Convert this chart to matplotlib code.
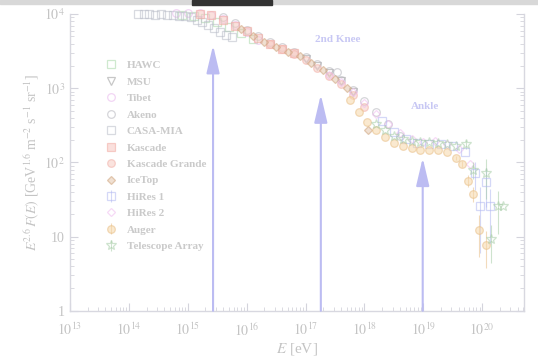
import numpy as np
import matplotlib
matplotlib.use('Agg')
import matplotlib.pyplot as plt
from matplotlib.patches import Rectangle

plt.rcParams['font.family'] = 'Liberation Serif'
plt.rcParams['mathtext.fontset'] = 'stix'

# log10(E/eV) and E^2.6 F(E)
hawc_le = [14.9, 15.1, 15.3, 15.5, 15.7, 15.9, 16.1]
hawc_f = [9800, 9500, 8800, 7800, 6600, 5500, 4600]

msu_le = [17.0, 17.2, 17.4, 17.6, 17.8]
msu_f = [2500, 2000, 1600, 1250, 900]

tibet_le = [14.8, 15.0, 15.2, 15.4, 15.6, 15.8, 16.0, 16.2]
tibet_f = [10200, 10400, 10300, 9800, 8600, 7200, 5800, 4500]

akeno_le = [15.6, 15.8, 16.0, 16.2, 16.4, 16.6, 16.8, 17.0, 17.2, 17.4, 17.53, 17.6, 17.8, 18.0, 18.2, 18.4, 18.6]
akeno_f = [9000, 7600, 6100, 5000, 4200, 3600, 3100, 2600, 2100, 1700, 1650, 1300, 950, 680, 480, 330, 230]

casa_le = [14.15, 14.25, 14.35, 14.45, 14.55, 14.65, 14.75, 14.85, 14.95, 15.05, 15.15, 15.25, 15.35, 15.45, 15.55, 15.65, 15.75]
casa_f = [9900, 10000, 9900, 9800, 9900, 9700, 9600, 9500, 9400, 9200, 8300, 7800, 7100, 6500, 5700, 5200, 4900]

kascade_le = [15.2, 15.4, 15.6, 15.8, 16.0, 16.2, 16.4, 16.6, 16.8]
kascade_f = [10100, 9600, 8400, 7000, 5900, 4800, 4000, 3400, 3000]

kg_le = [16.4, 16.6, 16.8, 17.0, 17.2, 17.4, 17.6, 17.8, 18.0]
kg_f = [3900, 3400, 2900, 2400, 1900, 1450, 1150, 800, 560]

icetop_le = [15.9, 16.1, 16.3, 16.5, 16.7, 16.9, 17.1, 17.3, 17.5, 17.7, 18.06]
icetop_f = [6200, 5000, 4200, 3600, 3100, 2700, 2200, 1750, 1350, 1000, 275]

hires1_le = [18.3, 18.5, 18.7, 18.9, 19.1, 19.3, 19.5, 19.7, 19.87, 19.96, 20.06, 20.14]
hires1_f = [360, 260, 210, 185, 175, 175, 165, 140, 72, 26, 55, 26]
hires1_err = [0, 0, 0, 0, 0, 0, 0, 0, 30, 20, 30, 18]

hires2_le = [17.4, 17.6, 17.8, 18.0, 18.2, 18.4, 18.6, 18.8, 19.0, 19.2, 19.4, 19.6, 19.8]
hires2_f = [1500, 1200, 900, 640, 450, 330, 250, 205, 190, 195, 180, 150, 95]

auger_le = [17.75, 17.9, 18.05, 18.2, 18.35, 18.5, 18.65, 18.8, 18.95, 19.1, 19.25, 19.4, 19.55, 19.65, 19.76, 19.85, 19.95, 20.06]
auger_f = [690, 480, 355, 275, 220, 183, 166, 158, 148, 148, 148, 138, 115, 96, 57, 38, 12.3, 7.8]
auger_err = [0, 0, 0, 0, 0, 0, 0, 0, 0, 0, 0, 0, 8, 10, 10, 9, 7, 4]

ta_le = [18.2, 18.35, 18.5, 18.65, 18.8, 18.95, 19.1, 19.25, 19.4, 19.55, 19.73, 19.85, 20.07, 20.15, 20.26, 20.36]
ta_f = [330, 270, 230, 205, 195, 190, 190, 185, 180, 165, 175, 80, 72, 9.4, 26, 26]
ta_err = [0, 0, 0, 0, 0, 0, 0, 0, 0, 0, 25, 20, 40, 5, 15, 0]

arrow_le = [15.43, 17.26, 18.99]
arrow_tip = [3800, 820, 115]

series = [
    ('HAWC', hawc_le, hawc_f, None, 's', '#a8d8a8', 'none'),
    ('MSU', msu_le, msu_f, None, 'v', '#9a9a9a', 'none'),
    ('Tibet', tibet_le, tibet_f, None, 'o', '#e8b4ec', 'none'),
    ('Akeno', akeno_le, akeno_f, None, 'o', '#b4b4bc', 'none'),
    ('CASA-MIA', casa_le, casa_f, None, 's', '#b8bcc8', 'none'),
    ('Kascade', kascade_le, kascade_f, None, 's', '#f2aaa2', '#f6c8c2'),
    ('Kascade Grande', kg_le, kg_f, None, 'o', '#f2b0a8', '#f6ccc4'),
    ('IceTop', icetop_le, icetop_f, None, 'D', '#cfa47e', '#e4c8ae'),
    ('HiRes 1', hires1_le, hires1_f, hires1_err, 's', '#b2b8f2', 'none'),
    ('HiRes 2', hires2_le, hires2_f, None, 'D', '#f0bcf0', 'none'),
    ('Auger', auger_le, auger_f, auger_err, 'o', '#e8bf86', '#f6d8aa'),
    ('Telescope Array', ta_le, ta_f, ta_err, '*', '#a6cca6', 'none'),
]

fig = plt.figure(figsize=(5.38, 3.61), dpi=100)
ax = fig.add_axes([0.130, 0.139, 0.844, 0.822])

grey = '#c4c4c4'
handles = []
for name, le, f, err, mk, col, fc in series:
    e = 10 ** np.array(le)
    ms = 7 if mk == '*' else 5.5
    if mk == 'D':
        ms = 4
    if err is not None:
        h = ax.errorbar(e, f, yerr=err, fmt=mk, color=col, mfc=fc, mec=col, ms=ms, mew=0.9,
                        elinewidth=0.8, capsize=0, clip_on=False, alpha=0.55, label=name)
    else:
        h, = ax.plot(e, f, mk, color=col, mfc=fc, mec=col, ms=ms, mew=0.9,
                     clip_on=False, alpha=0.55, label=name)
    handles.append(h)

for le, tip in zip(arrow_le, arrow_tip):
    ax.annotate('', xy=(10 ** le, tip), xytext=(10 ** le, 1.0),
                arrowprops=dict(arrowstyle='-|>,head_length=0.85,head_width=0.2',
                                color='#bcbcf2', lw=1.5, mutation_scale=20, shrinkA=0, shrinkB=0))

ax.text(10 ** 17.55, 4500, '2nd Knee', color='#c8c8f4', fontsize=8, fontweight='bold', ha='center', va='center')
ax.text(10 ** 19.03, 560, 'Ankle', color='#c8c8f4', fontsize=8, fontweight='bold', ha='center', va='center')

ax.set_xscale('log')
ax.set_yscale('log')
ax.set_xlim(1e13, 10 ** 20.71)
ax.set_ylim(1, 1e4)
ax.set_xticks([10.0 ** k for k in range(13, 21)])
ax.set_xticklabels(['$10^{%d}$' % k for k in range(13, 21)])
ax.set_yticks([1, 10, 100, 1000, 10000])
ax.set_yticklabels(['1', '10', '$10^{2}$', '$10^{3}$', '$10^{4}$'])

ax.spines['top'].set_visible(False)
for s in ['left', 'right', 'bottom']:
    ax.spines[s].set_color('#d8d8e0')
    ax.spines[s].set_linewidth(1.0)
ax.tick_params(which='both', direction='in', colors='#d4d4dc', labelcolor=grey,
               right=True, top=False, labelsize=10)
ax.tick_params(which='major', length=6)
ax.tick_params(which='minor', length=3)
ax.tick_params(axis='x', pad=8)

ax.set_xlabel('$E$ [eV]', color=grey, fontsize=11, labelpad=2)
ax.set_ylabel('$E^{2.6}\\,F(E)$ [GeV$^{1.6}$ m$^{-2}$ s$^{-1}$ sr$^{-1}$]', color=grey,
              fontsize=10, labelpad=2)

leg = ax.legend(handles=handles, labels=[s[0] for s in series], loc='upper left',
                bbox_to_anchor=(0.057, 0.877), frameon=False,
                prop={'size': 8, 'weight': 'bold'},
                labelspacing=0.6, handletextpad=0.9, handlelength=1.0, numpoints=1)
for t in leg.get_texts():
    t.set_color('#cacaca')

# screenshot strip at the top
fig.patches.append(Rectangle((0, 0.988), 1, 0.012, transform=fig.transFigure, color='#d8d8d8'))
fig.patches.append(Rectangle((0.357, 0.986), 0.148, 0.014, transform=fig.transFigure, color='#333333'))

fig.savefig('out.png', dpi=100)
